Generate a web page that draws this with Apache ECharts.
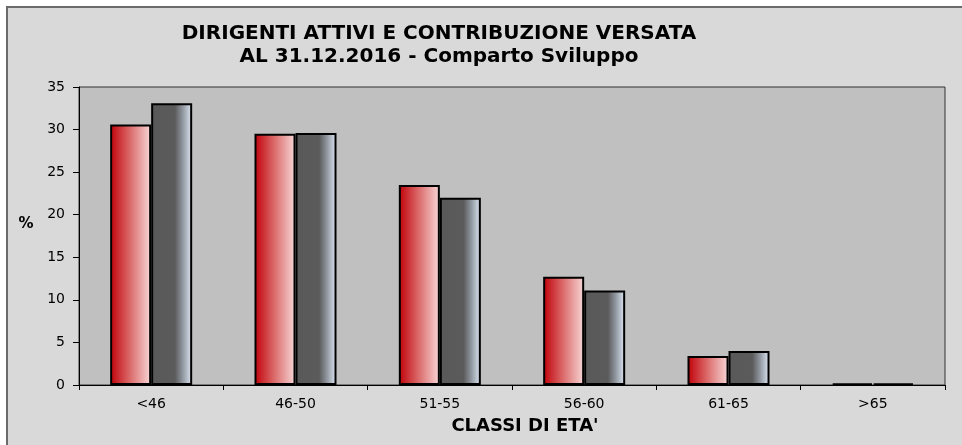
<!DOCTYPE html>
<html>
<head>
<meta charset="utf-8">
<script src="https://cdn.jsdelivr.net/npm/echarts@6/dist/echarts.min.js"></script>
<style>
html,body{margin:0;padding:0;background:#fff;}
#chart{width:962px;height:445px;}
</style>
</head>
<body>
<div id="chart"></div>
<script>
const categories = ['<46', '46-50', '51-55', '56-60', '61-65', '>65'];
const dirigenti = [30.6, 29.5, 23.5, 12.7, 3.4, 0.2];
const contribuzione = [33.1, 29.6, 22.0, 11.1, 4.0, 0.2];
const titleLines = ['DIRIGENTI ATTIVI E CONTRIBUZIONE VERSATA', 'AL 31.12.2016 - Comparto Sviluppo'];
const yName = '%';
const xName = "CLASSI DI ETA'";

const FONT = 'DejaVu Sans';
const chart = echarts.init(document.getElementById('chart'));

const redGrad = new echarts.graphic.LinearGradient(0, 0, 1, 0, [
  {offset: 0, color: '#c00008'},
  {offset: 0.5, color: '#dc6e6e'},
  {offset: 1, color: '#f8d8d8'}
]);
const grayGrad = new echarts.graphic.LinearGradient(0, 0, 1, 0, [
  {offset: 0, color: '#595959'},
  {offset: 0.58, color: '#5b5b5b'},
  {offset: 0.78, color: '#949ba4'},
  {offset: 1, color: '#e0eaf7'}
]);

chart.setOption({
  animation: false,
  backgroundColor: '#ffffff',
  graphic: [
    {type: 'rect', z: -10, silent: true,
     shape: {x: 7, y: 7, width: 970, height: 450},
     style: {fill: '#d9d9d9', stroke: '#6b6b6b', lineWidth: 2}},
    {type: 'text', silent: true,
     style: {text: titleLines.join('\n'), font: 'bold 20px "' + FONT + '"', fill: '#000', textAlign: 'center', lineHeight: 23},
     position: [439, 22]},
    {type: 'text', silent: true,
     style: {text: yName, font: 'bold 15px "' + FONT + '"', fill: '#000', textAlign: 'center', textVerticalAlign: 'middle'},
     position: [26, 224]},
    {type: 'text', silent: true,
     style: {text: xName, font: 'bold 18px "' + FONT + '"', fill: '#000', textAlign: 'center', textVerticalAlign: 'middle'},
     position: [525, 426]}
  ],
  grid: {left: 79, right: 17, top: 87, bottom: 60, show: true, backgroundColor: '#c0c0c0', borderColor: '#333', borderWidth: 1},
  xAxis: {
    type: 'category',
    data: categories,
    axisLine: {lineStyle: {color: '#000', width: 1}},
    axisTick: {show: true, length: 5, lineStyle: {color: '#000'}},
    axisLabel: {color: '#000', fontFamily: FONT, fontSize: 14, margin: 12},
    splitLine: {show: false}
  },
  yAxis: {
    type: 'value',
    min: 0, max: 35, interval: 5,
    axisLine: {show: true, lineStyle: {color: '#000', width: 1}},
    axisTick: {show: true, length: 6, lineStyle: {color: '#000'}},
    axisLabel: {color: '#000', fontFamily: FONT, fontSize: 14, margin: 14},
    splitLine: {show: false}
  },
  series: [
    {type: 'bar', name: 'Dirigenti', data: dirigenti, barWidth: 41, barGap: '0%',
     itemStyle: {color: redGrad, borderColor: '#000', borderWidth: 2}},
    {type: 'bar', name: 'Contribuzione', data: contribuzione, barWidth: 41,
     itemStyle: {color: grayGrad, borderColor: '#000', borderWidth: 2}}
  ]
});
</script>
</body>
</html>
